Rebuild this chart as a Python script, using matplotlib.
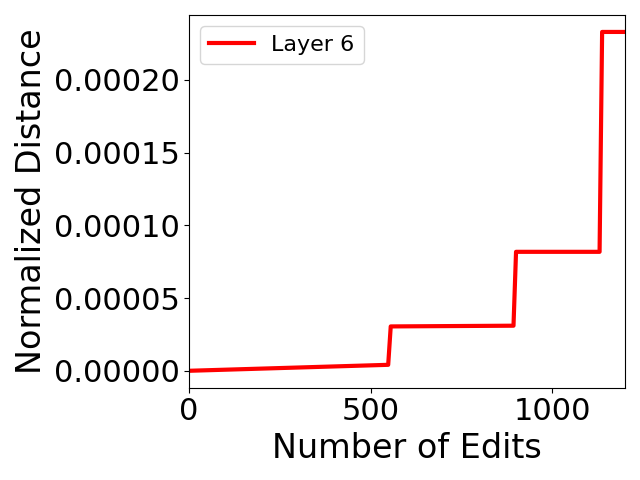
import matplotlib
matplotlib.use('Agg')
import matplotlib.pyplot as plt
from matplotlib.ticker import MultipleLocator

# values
num_edits = [0, 548, 555, 893, 900, 1130, 1137, 1200]
layer6_dist = [0.0, 4.1e-6, 3.05e-5, 3.1e-5, 8.18e-5, 8.18e-5, 2.33e-4, 2.33e-4]

plt.figure(figsize=(6.4, 4.8), dpi=100)
plt.plot(num_edits, layer6_dist, color='red', linewidth=3, label='Layer 6')
plt.xlim(0, 1200)
plt.gca().xaxis.set_major_locator(MultipleLocator(500))
plt.xlabel('Number of Edits', fontsize=24)
plt.ylabel('Normalized Distance', fontsize=24)
plt.xticks(fontsize=22)
plt.yticks(fontsize=22)
plt.legend(loc='upper left', fontsize=16)
plt.tight_layout()
plt.savefig('out.png')
